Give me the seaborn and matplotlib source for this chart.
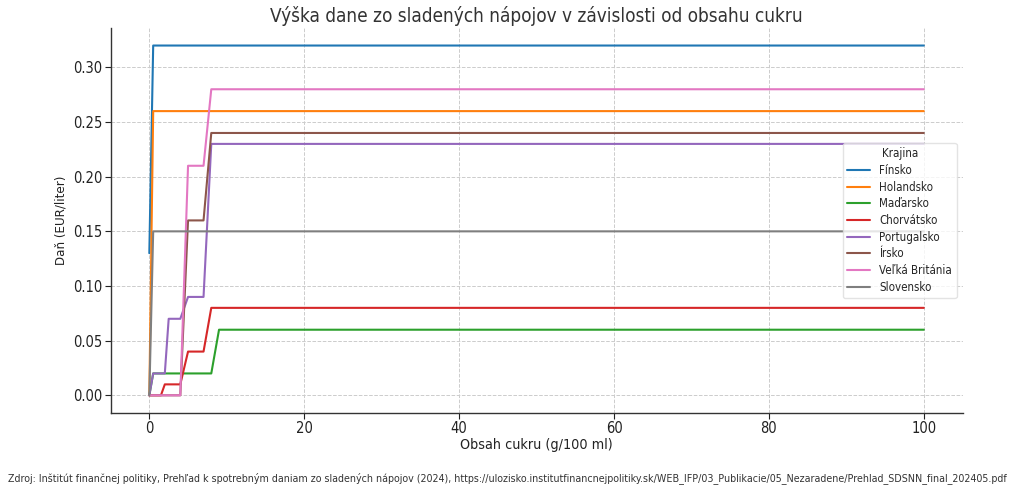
import pandas as pd
import matplotlib.pyplot as plt
import seaborn as sns

# ==============================
# Data (sugar content g/100 ml -> tax EUR/liter)
# ==============================

sugar = [0, 0.5, 1, 1.5, 2, 2.5, 3, 4, 5, 6, 7, 8, 9, 10, 100]

finsko      = [0.13, 0.32, 0.32, 0.32, 0.32, 0.32, 0.32, 0.32, 0.32, 0.32, 0.32, 0.32, 0.32, 0.32, 0.32]
holandsko   = [0.00, 0.26, 0.26, 0.26, 0.26, 0.26, 0.26, 0.26, 0.26, 0.26, 0.26, 0.26, 0.26, 0.26, 0.26]
madarsko    = [0.00, 0.02, 0.02, 0.02, 0.02, 0.02, 0.02, 0.02, 0.02, 0.02, 0.02, 0.02, 0.06, 0.06, 0.06]
chorvatsko  = [0.00, 0.00, 0.00, 0.00, 0.01, 0.01, 0.01, 0.01, 0.04, 0.04, 0.04, 0.08, 0.08, 0.08, 0.08]
portugalsko = [0.00, 0.02, 0.02, 0.02, 0.02, 0.07, 0.07, 0.07, 0.09, 0.09, 0.09, 0.23, 0.23, 0.23, 0.23]
irsko       = [0.00, 0.00, 0.00, 0.00, 0.00, 0.00, 0.00, 0.00, 0.16, 0.16, 0.16, 0.24, 0.24, 0.24, 0.24]
britania    = [0.00, 0.00, 0.00, 0.00, 0.00, 0.00, 0.00, 0.00, 0.21, 0.21, 0.21, 0.28, 0.28, 0.28, 0.28]
slovensko   = [0.00, 0.15, 0.15, 0.15, 0.15, 0.15, 0.15, 0.15, 0.15, 0.15, 0.15, 0.15, 0.15, 0.15, 0.15]

countries = ["Fínsko", "Holandsko", "Maďarsko", "Chorvátsko",
             "Portugalsko", "Írsko", "Veľká Británia", "Slovensko"]
series = [finsko, holandsko, madarsko, chorvatsko,
          portugalsko, irsko, britania, slovensko]

rows = []
for name, vals in zip(countries, series):
    for x, y in zip(sugar, vals):
        rows.append({"Obsah cukru": x, "Daň": y, "Krajina": name})
df = pd.DataFrame(rows)

# ==============================
# Plot
# ==============================

sns.set_style("white")
plt.rcParams['font.family'] = ['DejaVu Sans']
plt.rcParams['font.stretch'] = 'condensed'

fig = plt.figure(figsize=(10.24, 4.92), dpi=100)
ax = fig.add_axes([0.108, 0.161, 0.832, 0.782])

sns.lineplot(data=df, x="Obsah cukru", y="Daň", hue="Krajina",
             hue_order=countries, palette="tab10", linewidth=1.5,
             ax=ax, estimator=None, sort=False)

ax.grid(True, linestyle="--", color="#cccccc", linewidth=0.7)
ax.set_axisbelow(True)
sns.despine(ax=ax)
for s in ["left", "bottom"]:
    ax.spines[s].set_color("#333333")
    ax.spines[s].set_linewidth(1.0)

ax.set_title("Výška dane zo sladených nápojov v závislosti od obsahu cukru",
             fontsize=13.6, color="#333333", pad=4)
ax.set_xlabel("Obsah cukru (g/100 ml)", fontsize=10.3, color="#222222", labelpad=1)
ax.set_ylabel("Daň (EUR/liter)", fontsize=9.5, color="#222222", labelpad=4)
ax.tick_params(axis="both", labelsize=10.5, colors="#222222", length=4, pad=2,
               left=True, bottom=True)
ax.set_xticks([0, 20, 40, 60, 80, 100])
ax.set_yticks([0.0, 0.05, 0.10, 0.15, 0.20, 0.25, 0.30])
ax.yaxis.set_major_formatter(plt.FormatStrFormatter("%.2f"))

leg = ax.legend(title="Krajina", loc="center right", fontsize=8.3, title_fontsize=8.3,
                frameon=True, labelspacing=0.32)
leg.get_frame().set_edgecolor("#dddddd")

fig.text(0.008, 0.022,
         "Zdroj: Inštitút finančnej politiky, Prehľad k spotrebným daniam zo sladených nápojov (2024), "
         "https://ulozisko.institutfinancnejpolitiky.sk/WEB_IFP/03_Publikacie/05_Nezaradene/Prehlad_SDSNN_final_202405.pdf",
         fontsize=7.65, color="#333333")

plt.savefig("out.png", dpi=100)
